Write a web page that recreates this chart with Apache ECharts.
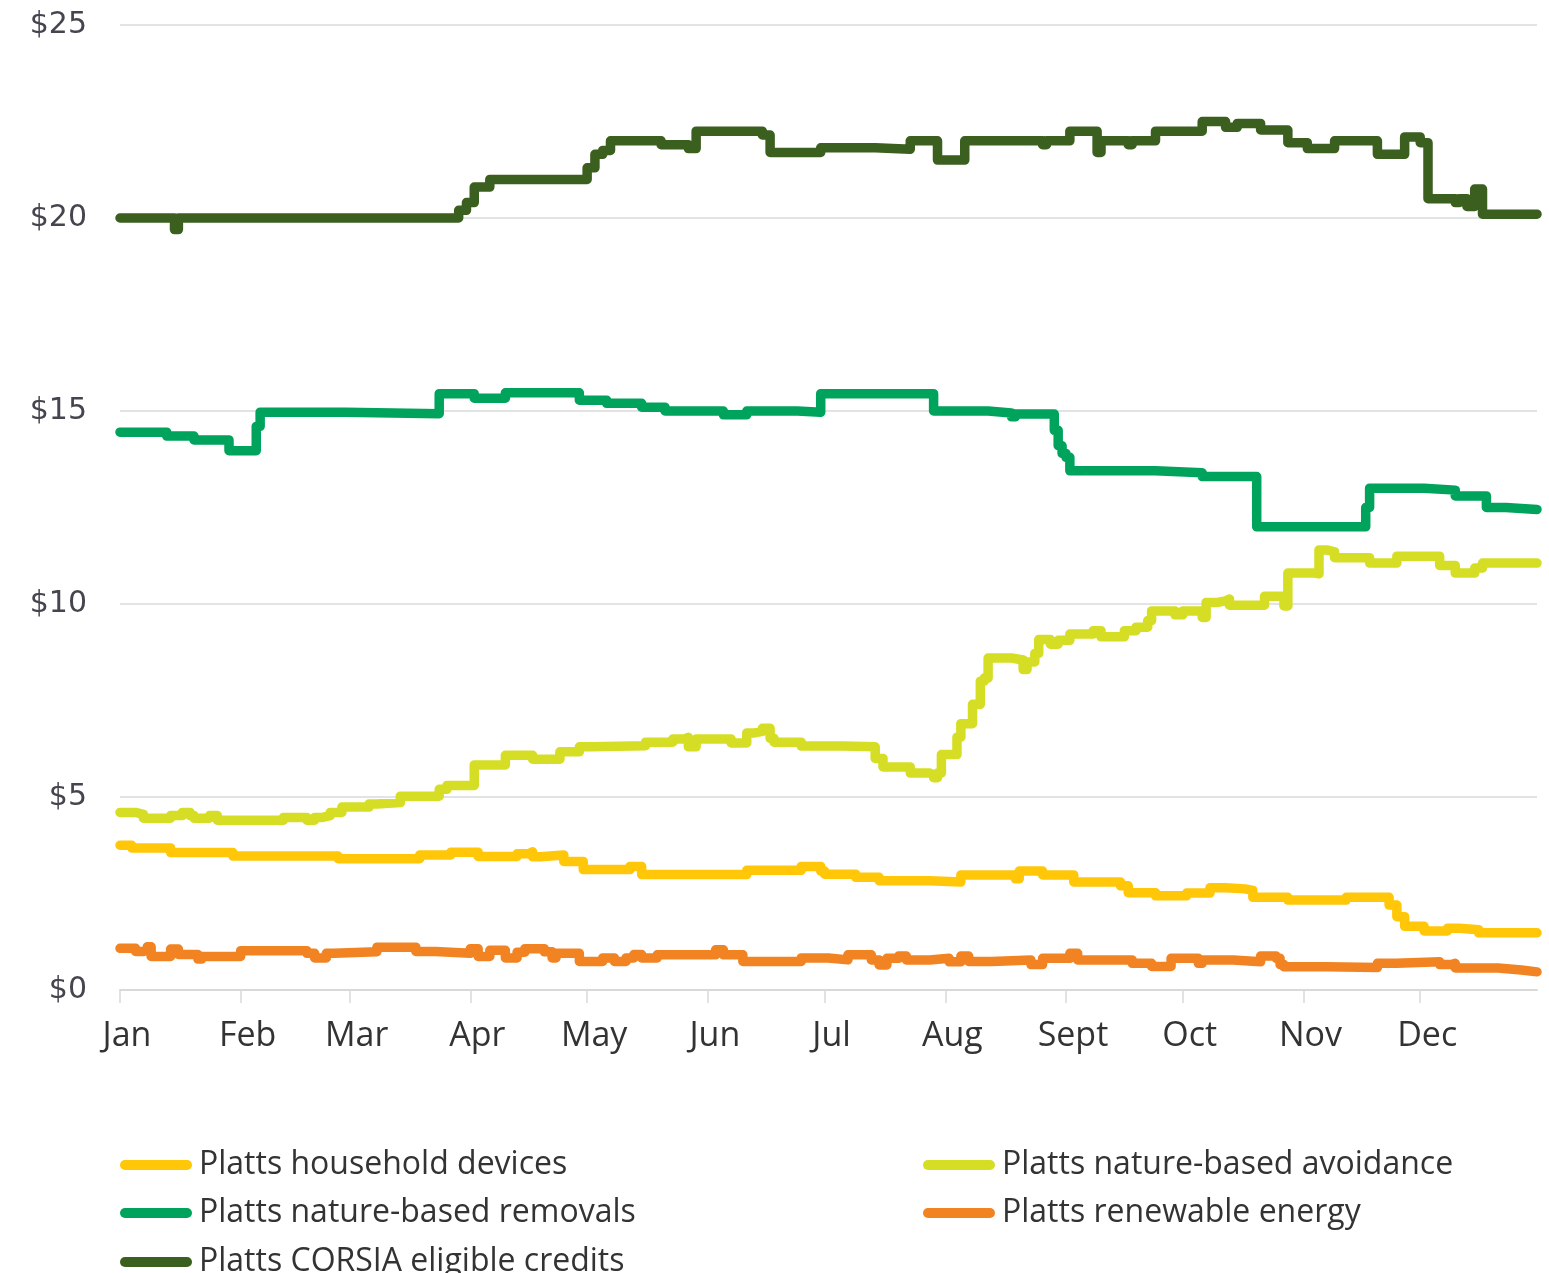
<!DOCTYPE html>
<html>
<head>
<meta charset="utf-8">
<title>Platts carbon credit assessments</title>
<script src="https://cdn.jsdelivr.net/npm/echarts@6/dist/echarts.min.js"></script>
<style>
  html, body { margin: 0; padding: 0; background: #ffffff; }
  #chart { width: 1549px; height: 1273px; }
</style>
</head>
<body>
<div id="chart"></div>
<script>
// Month labels along the x axis (one tick at the first day of each month)
const monthLabels = ['Jan', 'Feb', 'Mar', 'Apr', 'May', 'Jun', 'Jul', 'Aug', 'Sept', 'Oct', 'Nov', 'Dec'];
const monthStarts = [0, 31, 59, 90, 120, 151, 181, 212, 243, 273, 304, 334];
const yTicks = [0, 5, 10, 15, 20, 25];

// Series names (legend order)
const seriesNames = [
  'Platts household devices',
  'Platts nature-based avoidance',
  'Platts nature-based removals',
  'Platts renewable energy',
  'Platts CORSIA eligible credits'
];

// Daily assessments ($/mtCO2e); each entry is the date a new level starts
const householdDevices = [
  ['01-01', 3.75], ['01-04', 3.68], ['01-14', 3.56], ['01-30', 3.47], ['02-26', 3.4],
  ['03-19', 3.5], ['03-27', 3.57], ['04-03', 3.46], ['04-13', 3.53], ['04-16', 3.58],
  ['04-17', 3.45], ['04-19', 3.5], ['04-25', 3.33], ['04-30', 3.12], ['05-12', 3.2],
  ['05-15', 2.99], ['06-11', 3.1], ['06-25', 3.2], ['06-30', 3.08], ['07-01', 3.0],
  ['07-09', 2.92], ['07-15', 2.83], ['07-28', 2.8], ['08-05', 2.98], ['08-19', 2.88],
  ['08-20', 3.08], ['08-26', 2.98], ['09-03', 2.8], ['09-15', 2.7], ['09-17', 2.52],
  ['09-24', 2.44], ['10-02', 2.51], ['10-08', 2.65], ['10-12', 2.62], ['10-17', 2.58],
  ['10-19', 2.4], ['10-28', 2.33], ['11-12', 2.4], ['11-23', 2.2], ['11-25', 1.9],
  ['11-27', 1.65], ['12-02', 1.53], ['12-08', 1.6], ['12-11', 1.56], ['12-16', 1.48],
  ['12-31', 1.48]
];

const natureAvoidance = [
  ['01-01', 4.6], ['01-05', 4.55], ['01-07', 4.45], ['01-14', 4.52], ['01-17', 4.6],
  ['01-19', 4.52], ['01-20', 4.45], ['01-24', 4.52], ['01-26', 4.4], ['02-12', 4.47],
  ['02-18', 4.4], ['02-20', 4.47], ['02-22', 4.52], ['02-24', 4.6], ['02-27', 4.74],
  ['03-06', 4.82], ['03-08', 4.86], ['03-14', 5.02], ['03-24', 5.2], ['03-26', 5.3],
  ['04-02', 5.83], ['04-10', 6.08], ['04-17', 5.98], ['04-24', 6.17], ['04-29', 6.3],
  ['05-02', 6.33], ['05-16', 6.42], ['05-23', 6.5], ['05-26', 6.55], ['05-27', 6.3],
  ['05-29', 6.5], ['06-07', 6.4], ['06-11', 6.66], ['06-13', 6.7], ['06-15', 6.78],
  ['06-17', 6.52], ['06-18', 6.42], ['06-25', 6.32], ['07-06', 6.3], ['07-14', 6.0],
  ['07-16', 5.78], ['07-23', 5.62], ['07-28', 5.57], ['07-29', 5.5], ['07-30', 5.62],
  ['07-31', 6.1], ['08-04', 6.55], ['08-05', 6.9], ['08-08', 7.4], ['08-10', 8.0],
  ['08-11', 8.08], ['08-12', 8.6], ['08-18', 8.55], ['08-21', 8.3], ['08-22', 8.5],
  ['08-24', 8.72], ['08-25', 9.08], ['08-28', 8.96], ['08-30', 9.06], ['09-02', 9.22],
  ['09-08', 9.31], ['09-10', 9.15], ['09-16', 9.31], ['09-19', 9.4], ['09-22', 9.57],
  ['09-23', 9.82], ['09-29', 9.72], ['10-01', 9.82], ['10-06', 9.65], ['10-07', 10.04],
  ['10-10', 10.08], ['10-12', 10.13], ['10-13', 9.97], ['10-22', 10.2], ['10-27', 9.95],
  ['10-28', 10.8], ['11-04', 10.78], ['11-05', 11.4], ['11-07', 11.35], ['11-09', 11.2],
  ['11-18', 11.06], ['11-25', 11.24], ['12-06', 11.0], ['12-10', 10.8], ['12-15', 10.93],
  ['12-17', 11.06], ['12-31', 11.05]
];

const natureRemovals = [
  ['01-01', 14.45], ['01-13', 14.35], ['01-20', 14.25], ['01-29', 13.97], ['02-05', 14.6],
  ['02-06', 14.97], ['02-28', 14.93], ['03-24', 15.45], ['04-02', 15.33], ['04-10', 15.47],
  ['04-29', 15.28], ['05-06', 15.2], ['05-15', 15.1], ['05-21', 15.0], ['06-05', 14.9],
  ['06-11', 15.0], ['06-24', 14.97], ['06-30', 15.45], ['07-29', 15.0], ['08-12', 14.95],
  ['08-18', 14.85], ['08-19', 14.92], ['08-29', 14.5], ['08-30', 14.1], ['08-31', 13.9],
  ['09-01', 13.8], ['09-02', 13.45], ['09-24', 13.4], ['10-06', 13.3], ['10-20', 12.0],
  ['11-17', 12.5], ['11-18', 13.0], ['12-02', 12.95], ['12-10', 12.8], ['12-18', 12.5],
  ['12-23', 12.45], ['12-31', 12.45]
];

const renewableEnergy = [
  ['01-01', 1.08], ['01-05', 1.0], ['01-07', 1.03], ['01-08', 1.12], ['01-09', 0.87],
  ['01-14', 1.06], ['01-16', 0.92], ['01-21', 0.8], ['01-22', 0.87], ['02-01', 1.02],
  ['02-18', 0.95], ['02-20', 0.83], ['02-23', 0.95], ['02-25', 0.99], ['03-08', 1.11],
  ['03-18', 1.0], ['03-23', 0.95], ['04-01', 1.07], ['04-03', 0.87], ['04-06', 1.03],
  ['04-10', 0.83], ['04-13', 0.98], ['04-15', 1.07], ['04-20', 0.99], ['04-22', 0.83],
  ['04-23', 0.95], ['04-29', 0.74], ['05-05', 0.83], ['05-08', 0.74], ['05-11', 0.83],
  ['05-13', 0.92], ['05-15', 0.83], ['05-19', 0.91], ['06-03', 1.04], ['06-05', 0.91],
  ['06-10', 0.74], ['06-25', 0.83], ['07-02', 0.78], ['07-07', 0.91], ['07-13', 0.78],
  ['07-15', 0.65], ['07-17', 0.82], ['07-20', 0.88], ['07-22', 0.78], ['07-28', 0.82],
  ['08-02', 0.73], ['08-05', 0.88], ['08-07', 0.74], ['08-13', 0.78], ['08-23', 0.66],
  ['08-26', 0.82], ['09-02', 0.95], ['09-04', 0.78], ['09-18', 0.69], ['09-23', 0.61],
  ['09-28', 0.82], ['10-05', 0.69], ['10-06', 0.78], ['10-14', 0.73], ['10-21', 0.88],
  ['10-25', 0.82], ['10-26', 0.66], ['10-27', 0.6], ['11-07', 0.58], ['11-20', 0.69],
  ['11-25', 0.73], ['12-06', 0.66], ['12-09', 0.69], ['12-10', 0.57], ['12-21', 0.52],
  ['12-27', 0.47], ['12-31', 0.47]
];

const corsiaCredits = [
  ['01-01', 20.0], ['01-15', 19.7], ['01-16', 20.0], ['03-29', 20.2], ['03-31', 20.4],
  ['04-02', 20.8], ['04-06', 21.0], ['05-01', 21.3], ['05-03', 21.65], ['05-05', 21.75],
  ['05-07', 22.0], ['05-20', 21.9], ['05-27', 21.8], ['05-29', 22.25], ['06-15', 22.15],
  ['06-17', 21.7], ['06-30', 21.82], ['07-14', 21.78], ['07-23', 22.0], ['07-30', 21.5],
  ['08-06', 22.0], ['08-26', 21.9], ['08-27', 22.0], ['09-02', 22.25], ['09-09', 21.7],
  ['09-10', 22.0], ['09-17', 21.9], ['09-18', 22.0], ['09-24', 22.25], ['10-06', 22.5],
  ['10-12', 22.35], ['10-15', 22.45], ['10-21', 22.28], ['10-28', 21.95], ['11-02', 21.8],
  ['11-09', 22.0], ['11-20', 21.65], ['11-27', 22.1], ['12-01', 21.95], ['12-03', 20.5],
  ['12-10', 20.4], ['12-11', 20.5], ['12-13', 20.3], ['12-15', 20.75], ['12-17', 20.1],
  ['12-31', 20.1]
];

const seriesColors = ['#FFC708', '#D5DE24', '#00A35B', '#F28322', '#3A5F1F'];

// 'MM-DD' -> day index within the year (Jan 1 = 0)
function dayIndex(md) {
  const parts = md.split('-').map(Number);
  return monthStarts[parts[0] - 1] + parts[1] - 1;
}
function toPoints(rows) {
  return rows.map(r => [dayIndex(r[0]), r[1]]);
}

const seriesData = [householdDevices, natureAvoidance, natureRemovals, renewableEnergy, corsiaCredits];

const labelFont = '"Open Sans", "Noto Sans", sans-serif';
const pillIcon = 'path://M5,0 L67,0 A5,5 0 0 1 67,10 L5,10 A5,5 0 0 1 5,0 Z';

// Legend in two columns: [series index, left, top]
const legendSlots = [
  [0, 115, 1143], [2, 115, 1191], [4, 115, 1240],
  [1, 918, 1143], [3, 918, 1191]
];

const chart = echarts.init(document.getElementById('chart'), null, { renderer: 'canvas' });

chart.setOption({
  backgroundColor: '#ffffff',
  animation: false,
  color: seriesColors,
  grid: { left: 120, right: 12, top: 25, bottom: 283 },
  legend: legendSlots.map(s => ({
    left: s[1],
    top: s[2],
    orient: 'horizontal',
    icon: pillIcon,
    itemWidth: 72,
    itemHeight: 11,
    selectedMode: false,
    data: [seriesNames[s[0]]],
    textStyle: {
      fontFamily: labelFont,
      fontSize: 32,
      color: '#333333',
      lineHeight: 34,
      padding: [0, 0, 0, 2]
    }
  })),
  xAxis: {
    type: 'value',
    min: 0,
    max: 364,
    splitLine: { show: false },
    axisLine: { show: true, lineStyle: { color: '#d9d9d9', width: 2 } },
    axisTick: {
      show: true,
      customValues: monthStarts,
      length: 13,
      lineStyle: { color: '#d9d9d9', width: 1.5 }
    },
    axisLabel: {
      customValues: monthStarts,
      margin: 29,
      fontFamily: labelFont,
      fontSize: 34,
      color: '#333333',
      padding: [0, 0, 0, 14],
      formatter: function (v) {
        const i = monthStarts.indexOf(Math.round(v));
        return i >= 0 ? monthLabels[i] : '';
      }
    }
  },
  yAxis: {
    type: 'value',
    min: yTicks[0],
    max: yTicks[yTicks.length - 1],
    interval: 5,
    axisLine: { show: false },
    axisTick: { show: false },
    splitLine: { show: true, lineStyle: { color: '#e3e3e3', width: 2 } },
    axisLabel: {
      margin: 33,
      fontFamily: '"DejaVu Sans", Verdana, sans-serif',
      fontSize: 30,
      color: '#45454f',
      formatter: v => '$' + v
    }
  },
  series: seriesNames.map((name, i) => ({
    name: name,
    type: 'line',
    step: 'end',
    showSymbol: false,
    symbol: 'none',
    data: toPoints(seriesData[i]),
    lineStyle: { color: seriesColors[i], width: 9.5, cap: 'round', join: 'round' },
    itemStyle: { color: seriesColors[i] },
    emphasis: { disabled: true }
  }))
});
</script>
</body>
</html>
